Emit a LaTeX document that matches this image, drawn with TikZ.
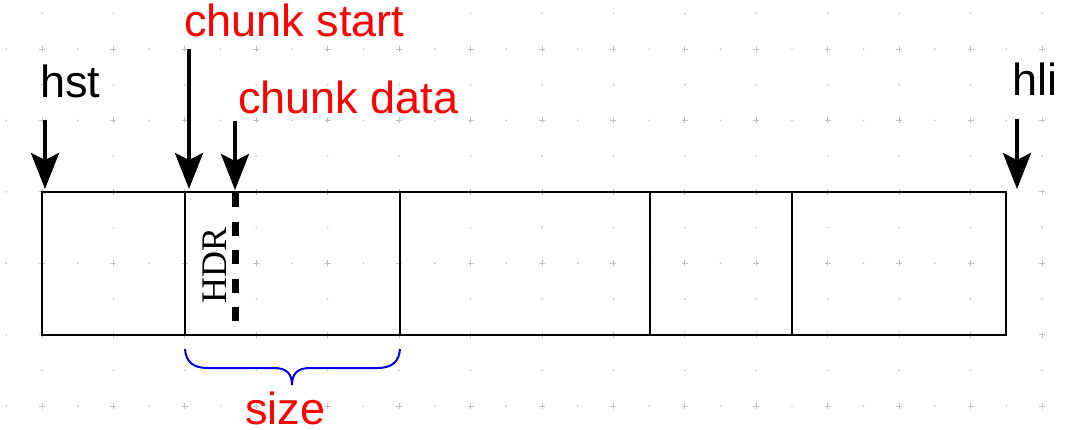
\documentclass[tikz,border=0pt]{standalone}
\usepackage{fontspec}
\setmainfont{Liberation Sans}
\newfontfamily\hdrfont{Liberation Serif}
\usetikzlibrary{arrows.meta}
\definecolor{gridc}{RGB}{192,192,192}
\definecolor{lblred}{RGB}{255,0,0}
\definecolor{braceblue}{RGB}{0,0,230}
\begin{document}
\begin{tikzpicture}[x=1pt,y=-1pt,
  seg/.style={draw=black, line width=2pt, inner sep=0pt, outer sep=0pt, minimum height=143pt},
  lbl/.style={inner sep=0pt, font=\fontsize{45}{54}\selectfont},
  ptr/.style={draw=black, line width=4pt, -{Stealth[length=36pt,width=28pt,inset=7pt]}},
  hdrdash/.style={draw=black, line width=7pt, dash pattern=on 14pt off 14.5pt},
  bracestyle/.style={draw=braceblue, line width=2pt}]
\useasboundingbox (0,0) rectangle (1067,429);
% background dotted grid
\foreach \i in {0,...,14}{
  \foreach \j in {0,...,5}{
    \pgfmathsetmacro{\gx}{42+71.43*\i}
    \pgfmathsetmacro{\gy}{49+71.43*\j}
    \pgfmathsetmacro{\mx}{\gx-35.71}
    \pgfmathsetmacro{\my}{\gy-35.71}
    \draw[gridc, line width=0.9pt] (\gx-3,\gy) -- (\gx+3,\gy) (\gx,\gy-3) -- (\gx,\gy+3);
    \fill[gridc] (\mx,\gy) circle (0.9);
    \fill[gridc] (\gx,\my) circle (0.9);
  }
}
% memory segments
\node[seg, minimum width=143pt] (b1) at (113.5,263.5) {};
\node[seg, minimum width=215pt] (b2) at (292.5,263.5) {};
\node[seg, minimum width=250pt] (b3) at (525,263.5) {};
\node[seg, minimum width=142pt] (b4) at (721,263.5) {};
\node[seg, minimum width=214pt] (b5) at (899,263.5) {};
% header text and boundary
\node[inner sep=0pt, rotate=90, anchor=base west] (hdr) at (226,304) {\hdrfont\fontsize{36}{42}\selectfont HDR};
\coordinate (dtop) at (235,193);
\coordinate (dbot) at (235,321);
\draw[hdrdash] (dtop) -- (dbot);
% labels
\node[lbl, anchor=base west] (hst) at (40,97) {hst};
\node[lbl, anchor=base west] (hli) at (1012,95) {hli};
\node[lbl, anchor=base west, text=lblred] (cstart) at (184,36) {chunk start};
\node[lbl, anchor=base west, text=lblred] (cdata) at (238,113) {chunk data};
\node[lbl, anchor=base west, text=lblred] (size) at (245,424) {size};
% arrows
\coordinate (hstS) at (45,120);   \coordinate (hstT) at (45,189);
\coordinate (csS) at (189,49);    \coordinate (csT) at (189,189);
\coordinate (cdS) at (235,121);   \coordinate (cdT) at (235,190);
\coordinate (hliS) at (1017,119); \coordinate (hliT) at (1017,189);
\draw[ptr] (hstS) -- (hstT);
\draw[ptr] (csS) -- (csT);
\draw[ptr] (cdS) -- (cdT);
\draw[ptr] (hliS) -- (hliT);
% brace
\coordinate (brL) at (185,349);
\coordinate (brM) at (292,385);
\coordinate (brR) at (400,349);
\draw[bracestyle] (brL) .. controls (186,362) and (193,368) .. (208,368)
  -- (274,368) .. controls (287,368) and (292,374) .. (brM)
  .. controls (292,374) and (297,368) .. (310,368)
  -- (377,368) .. controls (392,368) and (399,362) .. (brR);
\end{tikzpicture}
\end{document}
